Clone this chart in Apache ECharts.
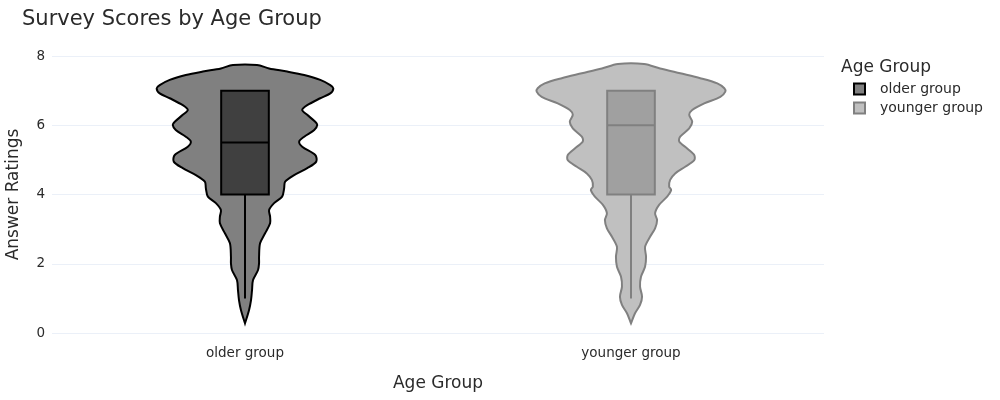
<!DOCTYPE html>
<html>
<head>
<meta charset="utf-8">
<script src="https://cdn.jsdelivr.net/npm/echarts@6/dist/echarts.min.js"></script>
<style>
	html, body { margin: 0; padding: 0; background: #fff; }
	#chart { width: 1000px; height: 400px; }
</style>
</head>
<body>
<div id="chart"></div>
<script>
const groups = ['older group', 'younger group'];
const yTicks = [0, 2, 4, 6, 8];

// violin outline: answer rating (y) and relative density (half width)
const olderY = [0.28, 0.66, 0.95, 1.24, 1.53, 1.82, 2.01, 2.20, 2.59, 2.88, 3.17, 3.36, 3.55, 3.75, 3.94, 4.18, 4.37, 4.56, 4.76, 4.95, 5.14, 5.38, 5.53, 5.67, 5.86, 6.01, 6.10, 6.30, 6.44, 6.58, 6.78, 6.92, 7.07, 7.16, 7.31, 7.45, 7.55, 7.64, 7.74];
const olderDensity = [0.00, 0.04, 0.06, 0.07, 0.08, 0.13, 0.14, 0.14, 0.15, 0.20, 0.25, 0.25, 0.24, 0.29, 0.37, 0.39, 0.40, 0.49, 0.62, 0.71, 0.70, 0.57, 0.54, 0.59, 0.69, 0.72, 0.70, 0.62, 0.57, 0.62, 0.75, 0.85, 0.88, 0.85, 0.75, 0.59, 0.42, 0.24, 0.12];
const youngerY = [0.28, 0.57, 0.81, 1.05, 1.34, 1.63, 1.91, 2.20, 2.49, 2.78, 3.02, 3.26, 3.46, 3.70, 3.94, 4.13, 4.23, 4.42, 4.61, 4.80, 4.99, 5.14, 5.33, 5.53, 5.67, 5.91, 6.10, 6.30, 6.44, 6.63, 6.82, 6.97, 7.07, 7.21, 7.36, 7.50, 7.64, 7.77];
const youngerDensity = [0.00, 0.04, 0.09, 0.11, 0.09, 0.10, 0.14, 0.15, 0.14, 0.19, 0.24, 0.26, 0.24, 0.28, 0.36, 0.40, 0.38, 0.39, 0.44, 0.54, 0.63, 0.63, 0.56, 0.48, 0.49, 0.58, 0.61, 0.58, 0.61, 0.73, 0.89, 0.94, 0.93, 0.86, 0.69, 0.49, 0.29, 0.13];

// box stats: min, q1, median, q3, max
const olderBox = [1, 4, 5.5, 7, 7];
const youngerBox = [1, 4, 6, 7, 7];

const textColor = '#2a2a2a';
const gridColor = '#ebf0f8';

function violinItem(ys, dens, box, lineColor, boxFill) {
	return function (params, api) {
		const c = api.value(0);
		const band = api.size([1, 0])[0];
		const k = band * 0.26;
		const left = [], right = [];
		for (let i = 0; i < ys.length; i++) {
			const p = api.coord([c, ys[i]]);
			left.push([p[0] - dens[i] * k, p[1]]);
			right.unshift([p[0] + dens[i] * k, p[1]]);
		}
		const pts = left.concat(right);
		const bw = band * 0.0617;
		const pMin = api.coord([c, box[0]]);
		const pQ1 = api.coord([c, box[1]]);
		const pMed = api.coord([c, box[2]]);
		const pQ3 = api.coord([c, box[3]]);
		const pMax = api.coord([c, box[4]]);
		const stroke = {stroke: lineColor, lineWidth: 2};
		return {
			type: 'group',
			children: [
				{
					type: 'polygon',
					shape: {points: pts, smooth: 0.3},
					style: {fill: api.visual('color'), stroke: lineColor, lineWidth: 2}
				},
				{
					type: 'line',
					shape: {x1: pMin[0], y1: pMin[1], x2: pQ1[0], y2: pQ1[1]},
					style: stroke
				},
				{
					type: 'line',
					shape: {x1: pQ3[0], y1: pQ3[1], x2: pMax[0], y2: pMax[1]},
					style: stroke
				},
				{
					type: 'rect',
					shape: {x: pQ3[0] - bw, y: pQ3[1], width: bw * 2, height: pQ1[1] - pQ3[1]},
					style: {fill: boxFill, stroke: lineColor, lineWidth: 2}
				},
				{
					type: 'line',
					shape: {x1: pMed[0] - bw, y1: pMed[1], x2: pMed[0] + bw, y2: pMed[1]},
					style: stroke
				}
			]
		};
	};
}

const chart = echarts.init(document.getElementById('chart'), null, {renderer: 'canvas'});

chart.setOption({
	animation: false,
	textStyle: {fontFamily: 'DejaVu Sans', color: textColor},
	title: [
		{
			text: 'Survey Scores by Age Group',
			left: 22,
			top: 9,
			padding: 0,
			textStyle: {fontSize: 21, fontWeight: 'normal', color: textColor, fontFamily: 'DejaVu Sans'}
		},
		{
			text: 'Age Group',
			left: 841,
			top: 59,
			padding: 0,
			textStyle: {fontSize: 17, fontWeight: 'normal', color: textColor, fontFamily: 'DejaVu Sans'}
		}
	],
	legend: {
		orient: 'vertical',
		left: 848,
		top: 77,
		itemWidth: 11,
		itemHeight: 11,
		itemGap: 5,
		icon: 'rect',
		textStyle: {fontSize: 14, color: textColor, padding: [0, 0, 0, 10]},
		data: groups
	},
	grid: {left: 52, right: 176, top: 56, bottom: 67, outerBoundsMode: 'none'},
	xAxis: {
		type: 'category',
		data: groups,
		name: 'Age Group',
		nameLocation: 'middle',
		nameGap: 42,
		nameTextStyle: {fontSize: 17, color: textColor},
		axisLine: {show: false},
		axisTick: {show: false},
		axisLabel: {fontSize: 13.5, color: textColor, margin: 13}
	},
	yAxis: {
		type: 'value',
		min: yTicks[0],
		max: yTicks[yTicks.length - 1],
		interval: 2,
		name: 'Answer Ratings',
		nameLocation: 'middle',
		nameGap: 30,
		nameTextStyle: {fontSize: 17, color: textColor},
		axisLine: {show: false},
		axisTick: {show: false},
		axisLabel: {fontSize: 13.5, color: textColor, margin: 7},
		splitLine: {lineStyle: {color: gridColor, width: 1}}
	},
	series: [
		{
			name: groups[0],
			type: 'custom',
			renderItem: violinItem(olderY, olderDensity, olderBox, '#000000', '#404040'),
			itemStyle: {color: '#808080', borderColor: '#000000', borderWidth: 2},
			data: [[0, olderBox[3]]],
			z: 2
		},
		{
			name: groups[1],
			type: 'custom',
			renderItem: violinItem(youngerY, youngerDensity, youngerBox, '#808080', '#a0a0a0'),
			itemStyle: {color: '#c0c0c0', borderColor: '#808080', borderWidth: 2},
			data: [[1, youngerBox[3]]],
			z: 2
		}
	]
});
</script>
</body>
</html>
